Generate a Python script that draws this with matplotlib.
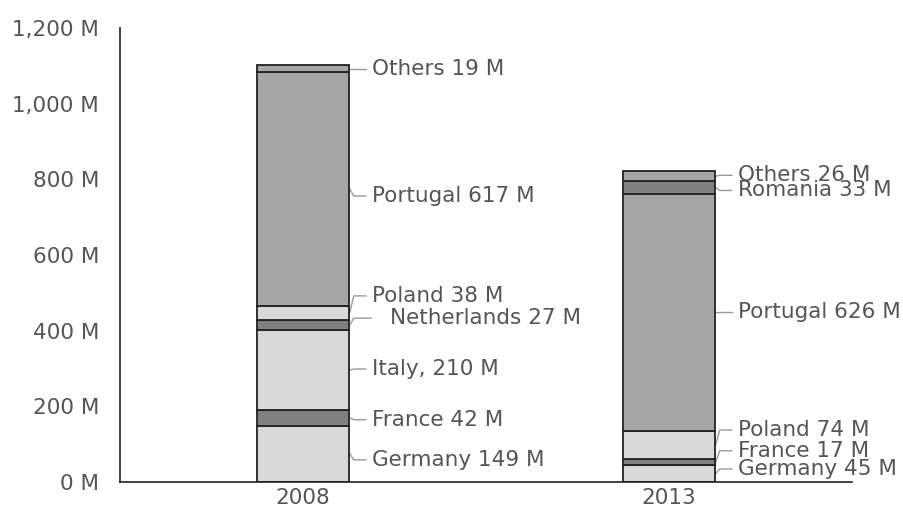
import matplotlib
matplotlib.use("Agg")
import matplotlib.pyplot as plt
import numpy as np

years = ["2008", "2013"]

names_2008 = ["Germany", "France", "Italy,", "Netherlands", "Poland", "Portugal", "Others"]
values_2008 = [149, 42, 210, 27, 38, 617, 19]

names_2013 = ["Germany", "France", "Poland", "Portugal", "Romania", "Others"]
values_2013 = [45, 17, 74, 626, 33, 26]

yticks = [0, 200, 400, 600, 800, 1000, 1200]

# style
LIGHT, MID, DARK = "#d9d9d9", "#a6a6a6", "#808080"
colors_2008 = [LIGHT, DARK, LIGHT, DARK, LIGHT, MID, MID]
colors_2013 = [LIGHT, DARK, LIGHT, MID, DARK, MID]
# label vertical nudges in pixels (positive = up) and extra x indent
dy_2008 = [-6, -2, 1, 7, 17, -7, 0]
dx_2008 = [0, 0, 0, 18, 0, 0, 0]
dy_2013 = [4.5, 11, 14.5, 0, -3, 1]
dx_2013 = [0, 0, 0, 0, 0, 0]

FS = 15.5
TXT = "#555555"
W, H = 904, 519
fig = plt.figure(figsize=(W / 100, H / 100), dpi=100)
ax = fig.add_axes([120 / W, (H - 482) / H, (852 - 120) / W, (482 - 28) / H])

width = 0.25
ax.set_xlim(-0.5, 1.5)
ax.set_ylim(0, 1200)

series = [(names_2008, values_2008, colors_2008, dy_2008, dx_2008),
          (names_2013, values_2013, colors_2013, dy_2013, dx_2013)]

for i, (names, vals, cols, dys, dxs) in enumerate(series):
    bottoms = np.concatenate([[0], np.cumsum(vals)[:-1]])
    ax.bar([i] * len(vals), vals, width=width, bottom=bottoms, color=cols,
           edgecolor="#222222", linewidth=1.3, zorder=2)

fig.canvas.draw()
inv = ax.transData.inverted()
for i, (names, vals, cols, dys, dxs) in enumerate(series):
    bottoms = np.concatenate([[0], np.cumsum(vals)[:-1]])
    for n, v, b, dy, dx in zip(names, vals, bottoms, dys, dxs):
        xr, yc = ax.transData.transform((i + width / 2, b + v / 2))
        pts = [(xr + 1, yc), (xr + 5, yc + dy), (xr + 17 + dx * 0.3, yc + dy)]
        dpts = inv.transform(pts)
        ax.plot(dpts[:, 0], dpts[:, 1], color="#999999", lw=1.0, zorder=1,
                clip_on=False)
        tx, ty = inv.transform((xr + 23 + dx, yc + dy))
        ax.text(tx, ty, f"{n} {v} M", ha="left", va="center", fontsize=FS,
                color=TXT, clip_on=False)

ax.set_xticks([0, 1])
ax.set_xticklabels(years)
ax.set_yticks(yticks)
ax.set_yticklabels([f"{t:,} M" for t in yticks])
ax.tick_params(axis="both", length=0, labelsize=FS, colors=TXT)
ax.tick_params(axis="y", pad=15)
ax.tick_params(axis="x", pad=4)
for s in ["top", "right"]:
    ax.spines[s].set_visible(False)
for s in ["left", "bottom"]:
    ax.spines[s].set_color("#222222")
    ax.spines[s].set_linewidth(1.2)

fig.savefig("out.png", dpi=100)
